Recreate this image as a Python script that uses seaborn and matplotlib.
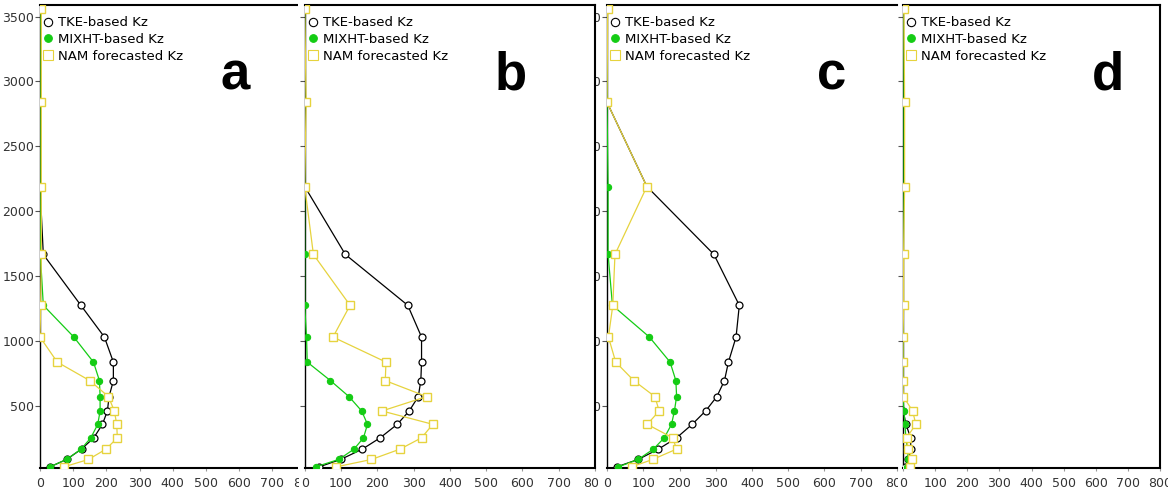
import numpy as np
import pandas as pd
import matplotlib
matplotlib.use("Agg")
import matplotlib.pyplot as plt
import seaborn as sns
from matplotlib.lines import Line2D
from matplotlib.transforms import Bbox, TransformedBbox, IdentityTransform

# model levels (m)
heights = [28, 85, 165, 252, 356, 459, 570, 693, 836, 1029, 1274, 1666, 2190, 2840, 3560]

# Kz profiles, panel a-d
tke_a = [30, 80, 125, 162, 188, 203, 208, 221, 221, 194, 123, 10, 0, 0, 0]
mix_a = [30, 80, 124, 153, 174, 181, 181, 179, 161, 102, 10, 1, 0, 0, 0]
nam_a = [72, 146, 199, 233, 231, 224, 206, 150, 52, 0, 2, 4, 4, 4, 4]

tke_b = [40, 99, 159, 208, 255, 288, 313, 320, 322, 322, 284, 112, 0, 0, 0]
mix_b = [30, 94, 136, 162, 173, 157, 122, 71, 7, 5, 0, 0, 0, 0, 0]
nam_b = [87, 184, 263, 322, 353, 213, 336, 222, 224, 78, 125, 24, 0, 4, 0]

tke_c = [27, 86, 142, 192, 235, 272, 303, 324, 335, 356, 365, 295, 110, 0, 0]
mix_c = [31, 86, 128, 158, 178, 186, 192, 190, 174, 117, 15, 3, 3, 0, 0]
nam_c = [68, 126, 192, 181, 111, 144, 132, 74, 24, 4, 16, 22, 110, 0, 2]

tke_d = [6, 17, 24, 24, 9, 1, 0, 0, 0, 0, 0, 0, 0, 0, 0]
mix_d = [12, 17, 14, 9, 6, 3, 0, 0, 0, 0, 0, 0, 0, 0, 0]
nam_d = [22, 29, 16, 11, 40, 30, 1, 0, 0, 0, 2, 2, 5, 5, 3]

panels = ["a", "b", "c", "d"]
series_names = ["TKE-based Kz", "MIXHT-based Kz", "NAM forecasted Kz"]
profiles = {
    "a": [tke_a, mix_a, nam_a],
    "b": [tke_b, mix_b, nam_b],
    "c": [tke_c, mix_c, nam_c],
    "d": [tke_d, mix_d, nam_d],
}
xticks = list(range(0, 900, 100))
yticks = list(range(500, 4000, 500))

rows = []
for p in panels:
    for name, vals in zip(series_names, profiles[p]):
        for h, v in zip(heights, vals):
            rows.append({"panel": p, "series": name, "height": h, "kz": v})
df = pd.DataFrame(rows)

GREEN = "#14cc14"
YELLOW = "#e6d33e"
styles = {
    "TKE-based Kz": dict(color="black", marker="o", mfc="white", mec="black", ms=5, mew=0.9),
    "MIXHT-based Kz": dict(color=GREEN, marker="o", mfc=GREEN, mec=GREEN, ms=4.5, mew=0.8),
    "NAM forecasted Kz": dict(color=YELLOW, marker="s", mfc="white", mec=YELLOW, ms=5.5, mew=1.0),
}

sns.set_style("ticks")
plt.rcParams["font.family"] = ["DejaVu Sans"]

W, H = 1168, 499
fig = plt.figure(figsize=(W / 100, H / 100), dpi=100)
fig.patch.set_facecolor("white")

# panel extents in pixels (left, right); panels are butted together and cropped
lefts = [40, 304.7, 607, 903]
rights = [305.6, 595, 897, 1160]
top_px, bot_px = 5, 467.5
label_x = [235, 511, 832, 1108]


def pix_clip(x0, x1):
    return TransformedBbox(Bbox.from_extents(x0, 0, x1, H), IdentityTransform())


axes = []
for i, p in enumerate(panels):
    ax = fig.add_axes([lefts[i] / W, 1 - bot_px / H, (rights[i] - lefts[i]) / W, (bot_px - top_px) / H])
    axes.append(ax)
    sub = df[df["panel"] == p]
    for name in series_names:
        st = styles[name]
        sns.lineplot(data=sub[sub["series"] == name], x="kz", y="height", sort=False,
                     estimator=None, ax=ax, lw=0.9, zorder=3, **st)
    ax.set_xlim(0, 800)
    ax.set_ylim(23, 3590)
    ax.set_xticks(xticks)
    ax.set_yticks(yticks)
    ax.set_xlabel("")
    ax.set_ylabel("")
    for s in ax.spines.values():
        s.set_linewidth(1.5)
        s.set_color("black")
    ax.spines["left"].set_linewidth(1.0)
    ax.tick_params(axis="y", direction="out", length=3.6, width=0.8, color="#555555",
                   labelsize=9, labelcolor="#333333", pad=0.5)
    ax.tick_params(axis="x", direction="out", length=2.5, width=0.8, color="#999999",
                   labelsize=9, labelcolor="#333333", pad=4)
    if p in ("b", "d"):
        ax.tick_params(axis="y", labelleft=False)
    handles = [Line2D([], [], ls="", marker=styles[n]["marker"], mfc=styles[n]["mfc"],
                      mec=styles[n]["mec"], ms=styles[n]["ms"] + 1, mew=0.8) for n in series_names]
    leg = ax.legend(handles, series_names, loc="upper left", bbox_to_anchor=(0, 0.984),
                    frameon=False, fontsize=9.5, handlelength=0.6, handletextpad=0.45,
                    borderaxespad=0.1, borderpad=0.2, labelspacing=0.28)
    for t in leg.get_texts():
        t.set_color("black")
    fig.text(label_x[i] / W, 1 - 90 / H, p, fontsize=38, fontweight="bold", color="black",
             family="Liberation Sans", ha="center", va="baseline")

# crop the panels like the original montage
ax_a, ax_b, ax_c, ax_d = axes
ax_a.spines["right"].set_visible(False)
ax_c.spines["right"].set_visible(False)
for sp in ("top", "bottom"):
    ax_a.spines[sp].set_clip_box(pix_clip(0, 298))
    ax_a.spines[sp].set_clip_on(True)

for ax, cut in ((ax_a, 299), (ax_b, 598), (ax_c, 897.5)):
    last = ax.xaxis.get_major_ticks()[-1]
    for art in (last.label1, last.tick1line):
        art.set_clip_box(pix_clip(0, cut))
        art.set_clip_on(True)

for t in ax_c.yaxis.get_major_ticks():
    t.label1.set_clip_box(pix_clip(596, 610))
    t.label1.set_clip_on(True)

fig.savefig("out.png", dpi=100)
